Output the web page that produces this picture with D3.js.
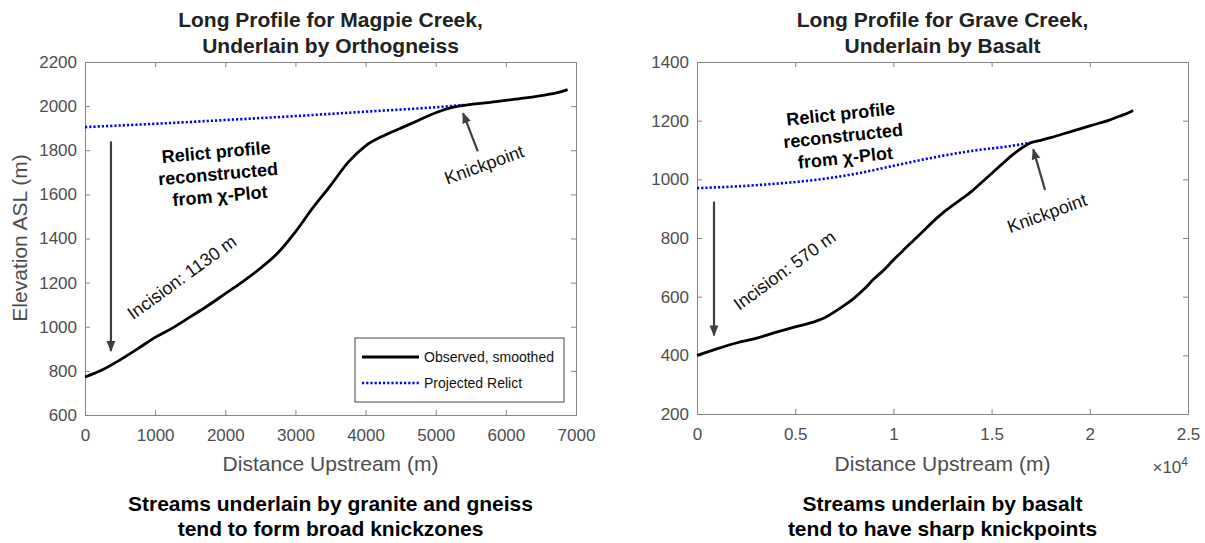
<!DOCTYPE html>
<html>
<head>
<meta charset="utf-8">
<script src="https://cdn.jsdelivr.net/npm/d3@7"></script>
<style>
  body { margin: 0; background: #fff; }
  svg text { font-family: "Liberation Sans", Arial, sans-serif; }
</style>
</head>
<body>
<svg id="chart" width="1205" height="543"></svg>
<script>
// Magpie Creek (orthogneiss)
const magpieDist = [0, 250, 500, 750, 1000, 1250, 1500, 1750, 2000, 2250, 2500, 2750, 3000, 3250, 3500, 3750, 4000, 4250, 4500, 4750, 5000, 5250, 5500, 5750, 6000, 6250, 6500, 6750, 6880];
const magpieElev = [772, 805, 850, 900, 952, 995, 1045, 1095, 1150, 1205, 1265, 1335, 1430, 1540, 1640, 1745, 1820, 1865, 1900, 1935, 1970, 1995, 2008, 2016, 2026, 2036, 2048, 2062, 2075];
const magpieRelictDist = [0, 1000, 2000, 3000, 4000, 5000, 5400];
const magpieRelictElev = [1905, 1920, 1937, 1955, 1975, 1995, 2005];

// Grave Creek (basalt)
const graveDist = [0, 1000, 2000, 3000, 4000, 5000, 6000, 6500, 7000, 7500, 8000, 8500, 9000, 9500, 10000, 10500, 11000, 11500, 12000, 12500, 13000, 13500, 14000, 14500, 15000, 15500, 16000, 16500, 17000, 17500, 18000, 18500, 19000, 19500, 20000, 20500, 21000, 21500, 22000, 22200];
const graveElev = [400, 422, 442, 458, 478, 497, 515, 528, 548, 570, 595, 625, 660, 690, 725, 758, 790, 822, 855, 885, 910, 935, 960, 990, 1020, 1050, 1080, 1105, 1125, 1133, 1142, 1152, 1162, 1172, 1182, 1192, 1202, 1215, 1228, 1235];
const graveRelictDist = [0, 2000, 4000, 6000, 8000, 10000, 12000, 14000, 16000, 17000];
const graveRelictElev = [970, 976, 985, 998, 1018, 1046, 1074, 1097, 1114, 1125];

// ticks
const magpieXTicks = [0, 1000, 2000, 3000, 4000, 5000, 6000, 7000];
const magpieYTicks = [600, 800, 1000, 1200, 1400, 1600, 1800, 2000, 2200];
const graveXTicks = [0, 5000, 10000, 15000, 20000, 25000];
const graveXLabels = ['0', '0.5', '1', '1.5', '2', '2.5'];
const graveYTicks = [200, 400, 600, 800, 1000, 1200, 1400];

const svg = d3.select('#chart');
const axisColor = '#858585', labelColor = '#4d4d4d', arrowColor = '#3f3f3f';

svg.append('defs').append('marker')
  .attr('id', 'head')
  .attr('viewBox', '0 0 10 10')
  .attr('refX', 9).attr('refY', 5)
  .attr('markerWidth', 5).attr('markerHeight', 5)
  .attr('markerUnits', 'strokeWidth')
  .attr('orient', 'auto')
  .append('path').attr('d', 'M0,1 L10,5 L0,9 Z').attr('fill', arrowColor);

function panel(opt) {
  const x = d3.scaleLinear().domain(opt.xDomain).range([opt.left, opt.right]);
  const y = d3.scaleLinear().domain(opt.yDomain).range([opt.bottom, opt.top]);
  const g = svg.append('g');

  // axes box, ticks point inward
  const bottom = g.append('g').attr('transform', `translate(0,${opt.bottom})`)
    .call(d3.axisBottom(x).tickValues(opt.xTicks).tickSize(-5).tickPadding(14)
      .tickFormat((d, i) => opt.xLabels ? opt.xLabels[i] : String(d)));
  const left = g.append('g').attr('transform', `translate(${opt.left},0)`)
    .call(d3.axisLeft(y).tickValues(opt.yTicks).tickSize(-5).tickPadding(8).tickFormat(d => String(d)));
  const top = g.append('g').attr('transform', `translate(0,${opt.top})`)
    .call(d3.axisTop(x).tickValues(opt.xTicks).tickSize(-5).tickFormat(''));
  const right = g.append('g').attr('transform', `translate(${opt.right},0)`)
    .call(d3.axisRight(y).tickValues(opt.yTicks).tickSize(-5).tickFormat(''));
  [bottom, left, top, right].forEach(a => {
    a.selectAll('path, line').attr('stroke', axisColor);
    a.selectAll('text').attr('fill', labelColor).style('font-size', '17px');
  });
  g.selectAll('.tick text').filter(function () { return this.textContent === ''; }).remove();

  // relict (dotted) and observed profile
  const line = d3.line().x(d => x(d[0])).y(d => y(d[1])).curve(d3.curveMonotoneX);
  g.append('path')
    .datum(d3.zip(opt.relictDist, opt.relictElev))
    .attr('d', line).attr('fill', 'none')
    .attr('stroke', '#0000ff').attr('stroke-width', 2.6).attr('stroke-dasharray', '2.2,2');
  g.append('path')
    .datum(d3.zip(opt.dist, opt.elev))
    .attr('d', line).attr('fill', 'none')
    .attr('stroke', '#000').attr('stroke-width', 2.8).attr('stroke-linejoin', 'round');

  // titles
  const cx = (opt.left + opt.right) / 2;
  const bold = (yy, size, color, t) => g.append('text').attr('x', cx).attr('y', yy)
    .attr('text-anchor', 'middle').style('font-size', size).style('font-weight', 'bold')
    .attr('fill', color).text(t);
  bold(27, '21px', '#222', opt.title[0]);
  bold(53, '21px', '#222', opt.title[1]);
  bold(511, '21px', '#000', opt.caption[0]);
  bold(536, '21px', '#000', opt.caption[1]);
  g.append('text').attr('x', cx).attr('y', 471).attr('text-anchor', 'middle')
    .style('font-size', '21px').attr('fill', labelColor).text('Distance Upstream (m)');

  // incision arrow
  g.append('line')
    .attr('x1', x(opt.arrowX)).attr('x2', x(opt.arrowX))
    .attr('y1', y(opt.arrowTop)).attr('y2', y(opt.arrowBottom))
    .attr('stroke', arrowColor).attr('stroke-width', 2.2).attr('marker-end', 'url(#head)');
  g.append('text')
    .attr('transform', `translate(${x(opt.incisionAt[0])},${y(opt.incisionAt[1])}) rotate(-36)`)
    .attr('text-anchor', 'middle').attr('dy', '0.35em')
    .style('font-size', '18px').attr('fill', '#111').text(opt.incisionText);

  // relict label
  const rl = g.append('text')
    .attr('transform', `translate(${x(opt.relictAt[0])},${y(opt.relictAt[1])}) rotate(${opt.relictRot})`)
    .attr('text-anchor', 'middle')
    .style('font-size', '18px').style('font-weight', 'bold').attr('fill', '#000');
  ['Relict profile', 'reconstructed', 'from \u03C7-Plot'].forEach((t, i) => {
    rl.append('tspan').attr('x', 0).attr('y', (i - 1) * 22 + 6).text(t);
  });

  // knickpoint arrow + label
  g.append('line')
    .attr('x1', x(opt.knickTail[0])).attr('y1', y(opt.knickTail[1]))
    .attr('x2', x(opt.knickTip[0])).attr('y2', y(opt.knickTip[1]))
    .attr('stroke', arrowColor).attr('stroke-width', 2.2).attr('marker-end', 'url(#head)');
  g.append('text')
    .attr('transform', `translate(${x(opt.knickAt[0])},${y(opt.knickAt[1])}) rotate(-20)`)
    .attr('text-anchor', 'middle').attr('dy', '0.35em')
    .style('font-size', '18px').attr('fill', '#111').text('Knickpoint');

  return { x, y, g };
}

const magpie = panel({
  left: 85, right: 576, top: 62, bottom: 415,
  xDomain: [0, 7000], yDomain: [600, 2200],
  xTicks: magpieXTicks, yTicks: magpieYTicks,
  dist: magpieDist, elev: magpieElev,
  relictDist: magpieRelictDist, relictElev: magpieRelictElev,
  title: ['Long Profile for Magpie Creek,', 'Underlain by Orthogneiss'],
  caption: ['Streams underlain by granite and gneiss', 'tend to form broad knickzones'],
  arrowX: 370, arrowTop: 1840, arrowBottom: 890,
  incisionAt: [1380, 1225], incisionText: 'Incision: 1130 m',
  relictAt: [1897, 1692], relictRot: -5,
  knickTail: [5600, 1795], knickTip: [5390, 1968], knickAt: [5690, 1735]
});

const grave = panel({
  left: 697, right: 1188, top: 62, bottom: 414,
  xDomain: [0, 25000], yDomain: [200, 1400],
  xTicks: graveXTicks, xLabels: graveXLabels, yTicks: graveYTicks,
  dist: graveDist, elev: graveElev,
  relictDist: graveRelictDist, relictElev: graveRelictElev,
  title: ['Long Profile for Grave Creek,', 'Underlain by Basalt'],
  caption: ['Streams underlain by basalt', 'tend to have sharp knickpoints'],
  arrowX: 866, arrowTop: 924, arrowBottom: 468,
  incisionAt: [4450, 690], incisionText: 'Incision: 570 m',
  relictAt: [7434, 1148], relictRot: -6,
  knickTail: [17720, 964], knickTip: [17120, 1102], knickAt: [17820, 885]
});

// y label (left panel only)
svg.append('text')
  .attr('transform', 'translate(27,238) rotate(-90)')
  .attr('text-anchor', 'middle')
  .style('font-size', '21px').attr('fill', labelColor).text('Elevation ASL (m)');

// exponent label
const ex = svg.append('text').attr('x', 1188).attr('y', 473).attr('text-anchor', 'end')
  .style('font-size', '17px').attr('fill', labelColor);
ex.append('tspan').text('\u00D710');
ex.append('tspan').attr('dy', -7).style('font-size', '12px').text('4');

// legend
const lg = magpie.g.append('g').attr('transform', 'translate(355,338)');
lg.append('rect').attr('width', 209).attr('height', 64)
  .attr('fill', '#fff').attr('stroke', '#444').attr('stroke-width', 1);
const legendItems = [
  { label: 'Observed, smoothed', color: '#000', dash: null, w: 2.8 },
  { label: 'Projected Relict', color: '#0000ff', dash: '2.2,2', w: 2.6 }
];
legendItems.forEach((d, i) => {
  const yy = 19 + i * 26;
  lg.append('line').attr('x1', 7).attr('x2', 64).attr('y1', yy).attr('y2', yy)
    .attr('stroke', d.color).attr('stroke-width', d.w).attr('stroke-dasharray', d.dash);
  lg.append('text').attr('x', 69).attr('y', yy).attr('dy', '0.35em')
    .style('font-size', '14px').attr('fill', '#111').text(d.label);
});
</script>
</body>
</html>
